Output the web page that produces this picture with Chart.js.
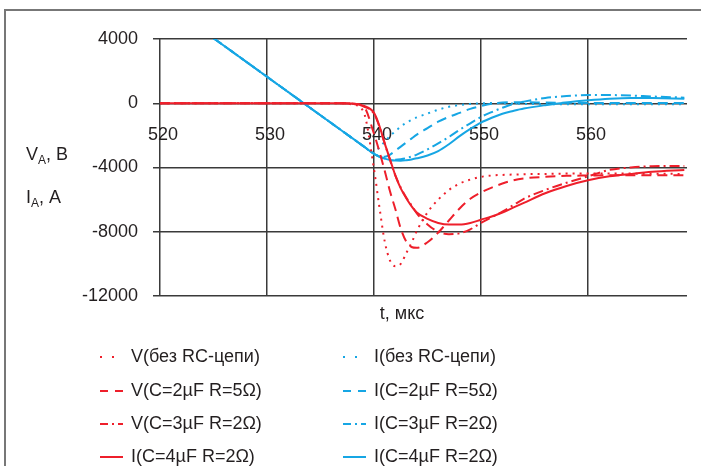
<!DOCTYPE html>
<html>
<head>
<meta charset="utf-8">
<script src="https://cdn.jsdelivr.net/npm/chart.js@4.4.1/dist/chart.umd.min.js"></script>
<style>
  html, body { margin: 0; padding: 0; background: #fff; }
  canvas { display: block; }
</style>
</head>
<body>
<canvas id="chart-rc" width="701" height="466"></canvas>
<script>
// time axis, мкс
const times = [520, 525, 537, 538, 539, 540, 540.5, 541, 541.5, 542, 542.5, 543, 543.5, 544, 545, 546, 547, 548, 549, 550, 551, 552, 553, 554, 556, 558, 560, 562, 564, 566, 569];

// anode voltage, B
const vNoRC =  [0, 0, 0, -80, -500, -4100, -6450, -8600, -9800, -10150, -10000, -9350, -8700, -7950, -6800, -6000, -5400, -5000, -4750, -4580, -4500, -4460, -4440, -4420, -4400, -4380, -4380, -4380, -4380, -4390, -4400];
const vC2R5 =  [0, 0, 0, -30, -170, -1900, -3000, -4200, -5500, -6600, -7800, -8600, -8950, -9000, -8650, -8050, -7300, -6550, -5950, -5550, -5250, -5000, -4800, -4680, -4580, -4520, -4500, -4480, -4480, -4480, -4480];
const vC3R2 =  [0, 0, 0, -30, -200, -650, -1450, -2500, -3550, -4500, -5250, -5850, -6350, -6850, -7550, -8000, -8150, -8100, -7850, -7450, -7100, -6750, -6350, -5950, -5400, -4950, -4550, -4150, -4000, -3920, -3900];
const vC4R2 =  [0, 0, 0, -20, -150, -600, -1400, -2500, -3500, -4500, -5300, -5900, -6400, -6800, -7200, -7450, -7550, -7550, -7450, -7250, -7050, -6800, -6500, -6200, -5600, -5150, -4800, -4550, -4400, -4270, -4150];

// anode current, A
const iNoRC =  [null, 4050, -1710, -2190, -2670, -3100, -2750, -2400, -2030, -1750, -1450, -1220, -1040, -880, -640, -400, -220, -110, -40, 0, 10, 0, -20, -40, -60, -70, -70, -70, -70, -70, -70];
const iC2R5 =  [null, 4050, -1710, -2190, -2670, -3150, -3300, -3330, -3200, -2950, -2700, -2450, -2200, -1950, -1550, -1150, -850, -600, -350, -170, -30, 40, 60, 60, 40, 30, 20, 20, 20, 20, 20];
const iC3R2 =  [null, 4050, -1710, -2190, -2670, -3150, -3320, -3430, -3500, -3510, -3480, -3420, -3320, -3200, -2870, -2500, -2100, -1650, -1250, -850, -550, -280, -50, 100, 330, 450, 510, 510, 480, 420, 350];
const iC4R2 =  [null, 4050, -1710, -2190, -2670, -3150, -3330, -3450, -3530, -3570, -3580, -3550, -3500, -3430, -3250, -2980, -2550, -2050, -1600, -1200, -900, -650, -480, -330, -120, 50, 180, 280, 330, 320, 280];

const labels = [
    'V(без RC-цепи)', 'V(C=2µF R=5Ω)', 'V(C=3µF R=2Ω)', 'I(C=4µF R=2Ω)',
    'I(без RC-цепи)', 'I(C=2µF R=5Ω)', 'I(C=3µF R=2Ω)', 'I(C=4µF R=2Ω)'
];
const xTicks = [520, 530, 540, 550, 560];
const yTicks = [4000, 0, -4000, -8000, -12000];

const RED = '#ee1f2b';
const BLUE = '#16a6e4';
const FONT = "'Liberation Sans', Arial, sans-serif";
const TEXT = '#231f20';

const styles = [
    { dash: [2, 5], sample: [2, 10] },
    { dash: [10, 6], sample: [8, 7] },
    { dash: [10, 4, 2, 4], sample: [8, 4, 2, 4] },
    { dash: [], sample: [] }
];

function series(label, values, color, style) {
    return {
        label,
        data: times.map((t, i) => ({ x: t, y: values[i] })),
        borderColor: color,
        borderWidth: 2,
        borderDash: style.dash,
        sampleDash: style.sample,
        pointRadius: 0,
        cubicInterpolationMode: 'monotone',
        fill: false,
    };
}

// red ones first so they sit on top of the blue ones
const datasets = [
    series(labels[0], vNoRC, RED, styles[0]),
    series(labels[1], vC2R5, RED, styles[1]),
    series(labels[2], vC3R2, RED, styles[2]),
    series(labels[3], vC4R2, RED, styles[3]),
    series(labels[4], iNoRC, BLUE, styles[0]),
    series(labels[5], iC2R5, BLUE, styles[1]),
    series(labels[6], iC3R2, BLUE, styles[2]),
    series(labels[7], iC4R2, BLUE, styles[3]),
];

function subLabel(ctx, x, y, main, sub, rest) {
    ctx.font = '18px ' + FONT;
    ctx.fillText(main, x, y);
    x += ctx.measureText(main).width;
    ctx.font = '12px ' + FONT;
    ctx.fillText(sub, x, y + 4);
    x += ctx.measureText(sub).width;
    ctx.font = '18px ' + FONT;
    ctx.fillText(rest, x, y);
}

const decor = {
    id: 'decor',
    beforeDraw(chart) {
        const ctx = chart.ctx;
        ctx.save();
        ctx.fillStyle = '#fff';
        ctx.fillRect(0, 0, chart.width, chart.height);
        ctx.strokeStyle = '#777';
        ctx.lineWidth = 2;
        ctx.beginPath();
        ctx.moveTo(5, chart.height);
        ctx.lineTo(5, 10);
        ctx.lineTo(chart.width, 10);
        ctx.stroke();
        ctx.restore();
    },
    afterDraw(chart) {
        const ctx = chart.ctx;
        ctx.save();
        ctx.fillStyle = TEXT;
        ctx.textBaseline = 'alphabetic';
        ctx.textAlign = 'left';
        subLabel(ctx, 26, 160, 'V', 'A', ', B');
        subLabel(ctx, 26, 203, 'I', 'A', ', A');

        ctx.font = '18px ' + FONT;
        ctx.textAlign = 'center';
        ctx.textBaseline = 'middle';
        ctx.fillText('t, мкс', 402, 314);

        // legend: two columns, V on the left, I on the right
        const rows = [357, 391, 424, 457];
        const cols = [100, 343];
        ctx.textAlign = 'left';
        chart.data.datasets.forEach((ds, i) => {
            const x = cols[Math.floor(i / 4)];
            const y = rows[i % 4];
            ctx.strokeStyle = ds.borderColor;
            ctx.lineWidth = 2;
            ctx.setLineDash(ds.sampleDash);
            ctx.beginPath();
            ctx.moveTo(x, y);
            ctx.lineTo(x + 23, y);
            ctx.stroke();
            ctx.setLineDash([]);
            ctx.fillStyle = TEXT;
            ctx.fillText(ds.label, x + 31, y);
        });
        ctx.restore();
    }
};

new Chart(document.getElementById('chart-rc'), {
    type: 'line',
    data: { datasets },
    options: {
        responsive: false,
        animation: false,
        events: [],
        layout: { padding: { left: 0, top: 39, right: 14, bottom: 170 } },
        plugins: { legend: { display: false }, tooltip: { enabled: false } },
        scales: {
            x: {
                type: 'linear',
                min: 520,
                max: 569.25,
                afterBuildTicks: (axis) => { axis.ticks = xTicks.map(v => ({ value: v })); },
                // labels sit just under the zero line, so the axis itself takes no room
                afterFit: (axis) => {
                    axis.height = 0;
                    axis.paddingLeft = 0;
                    axis.paddingRight = 0;
                },
                ticks: {
                    color: TEXT,
                    font: { family: FONT, size: 18 },
                    mirror: true,
                    padding: 150,
                    labelOffset: 3,
                    maxRotation: 0,
                    autoSkip: false,
                    callback: (v) => String(v),
                },
                grid: { color: '#3a3a3a', lineWidth: 1.5, drawTicks: false },
                border: { display: false },
            },
            y: {
                min: -12000,
                max: 4000,
                afterBuildTicks: (axis) => { axis.ticks = yTicks.map(v => ({ value: v })); },
                afterFit: (axis) => { axis.width = 160; },
                ticks: {
                    color: TEXT,
                    font: { family: FONT, size: 18 },
                    padding: 15,
                    callback: (v) => String(v),
                },
                grid: { color: '#3a3a3a', lineWidth: 1.5, tickLength: 7 },
                border: { display: false },
            }
        }
    },
    plugins: [decor]
});
</script>
</body>
</html>
